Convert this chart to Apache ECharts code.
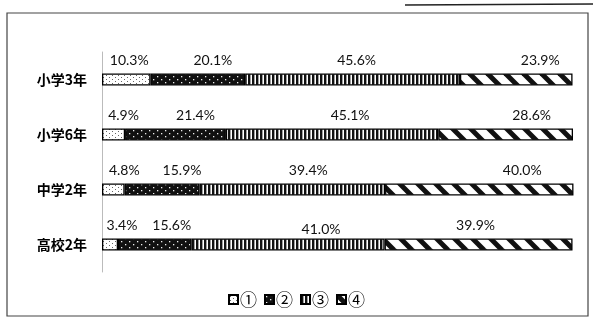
<!DOCTYPE html>
<html><head><meta charset="utf-8">
<script src="https://cdn.jsdelivr.net/npm/echarts@6/dist/echarts.min.js"></script>
<style>html,body{margin:0;padding:0;background:#fff}#c{width:593px;height:327px}</style>
</head><body><div id="c"></div>
<script>
const categories = ['小学3年', '小学6年', '中学2年', '高校2年'];
const seriesNames = ['①', '②', '③', '④'];
const s1 = [10.3, 4.9, 4.8, 3.4];
const s2 = [20.1, 21.4, 15.9, 15.6];
const s3 = [45.6, 45.1, 39.4, 41.0];
const s4 = [23.9, 28.6, 40.0, 39.9];
const values = [s1, s2, s3, s4];

// label nudges (styling only)
const labelDx = [[3, 10, 11, 12], [15, 20, 20, 17], [4, 18, 16, 33], [24, 26, 43, -3]];
const labelDy = [[0, 0, 0, 0], [0, 0, 0, 0], [0, 0, 0, 4], [0, 0, 0, 0]];

function mk(w, h, draw) { const c = document.createElement('canvas'); c.width = w; c.height = h; const g = c.getContext('2d'); draw(g); return c; }
const p1 = mk(6, 4, g => { g.fillStyle = '#fff'; g.fillRect(0, 0, 6, 4); g.fillStyle = '#666'; g.fillRect(1, 1, 1, 1); g.fillRect(4, 3, 1, 1); });
const p2 = mk(8, 6, g => { g.fillStyle = '#111'; g.fillRect(0, 0, 8, 6); g.fillStyle = '#eee'; g.fillRect(1, 1, 1.3, 1.3); g.fillRect(5, 4, 1.3, 1.3); });
const p3 = mk(4, 4, g => { g.fillStyle = '#fff'; g.fillRect(0, 0, 4, 4); g.fillStyle = '#111'; g.fillRect(0, 0, 2.4, 4); });
const p4 = mk(18, 18, g => { g.fillStyle = '#fff'; g.fillRect(0, 0, 18, 18); g.strokeStyle = '#111'; g.lineWidth = 5; for (const o of [-18, 0, 18]) { g.beginPath(); g.moveTo(o - 2, -2); g.lineTo(o + 20, 20); g.stroke(); } });
const pats = [p1, p2, p3, p4];

const chart = echarts.init(document.getElementById('c'), null, { renderer: 'canvas' });
chart.setOption({
  animation: false,
  backgroundColor: '#fff',
  grid: { left: 102, right: 20, top: 52, bottom: 55 },
  xAxis: { type: 'value', min: 0, max: 100, show: false },
  yAxis: {
    type: 'category', data: categories, inverse: true,
    axisLine: { show: true, lineStyle: { color: '#bbb', width: 1 } },
    axisTick: { show: false },
    axisLabel: { margin: 15, fontSize: 14, color: '#000', fontWeight: 'bold', fontFamily: '"Noto Sans CJK JP", sans-serif' }
  },
  legend: {
    left: 'center', top: 286, itemWidth: 9, itemHeight: 9, itemGap: 7, icon: 'rect',
    textStyle: { fontSize: 17, color: '#000', padding: [0, 0, 0, -3], fontFamily: '"Noto Sans CJK JP", sans-serif' },
    data: seriesNames
  },
  series: values.map((arr, si) => ({
    name: seriesNames[si], type: 'bar', stack: 'all', barWidth: 12,
    itemStyle: { color: { image: pats[si], repeat: 'repeat' }, borderColor: '#000', borderWidth: 1.3 },
    data: arr.map((v, ri) => ({
      value: v,
      label: { show: true, position: 'top', distance: 6, offset: [labelDx[si][ri], labelDy[si][ri]],
        formatter: p => p.value.toFixed(1) + '%', fontSize: 14, color: '#111', fontFamily: 'Lato, sans-serif' }
    }))
  })),
  graphic: [
    { type: 'rect', shape: { x: 7, y: 13, width: 581, height: 303 }, style: { fill: 'none', stroke: '#444', lineWidth: 1.2 }, silent: true },
    { type: 'line', shape: { x1: 405, y1: 5, x2: 593, y2: 4 }, style: { stroke: '#222', lineWidth: 1.5 }, silent: true }
  ]
});
</script></body></html>
